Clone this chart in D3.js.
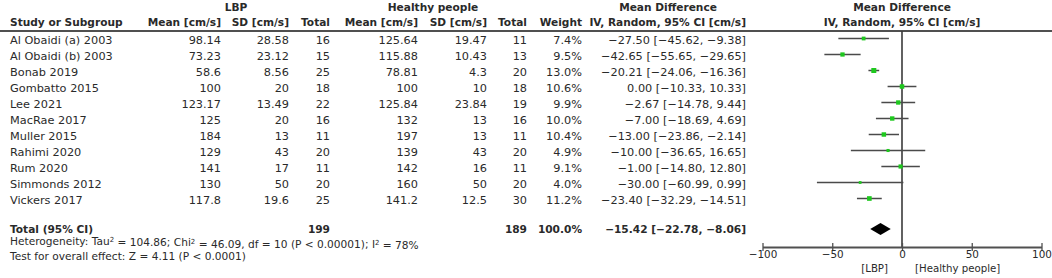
<!DOCTYPE html>
<html>
<head>
<meta charset="utf-8">
<script src="https://cdn.jsdelivr.net/npm/d3@7"></script>
<style>
  body { margin: 0; background: #fff; }
  svg { display: block; font-family: "DejaVu Sans", sans-serif; }
  text { fill: #2a2a2a; }
</style>
</head>
<body>
<div id="container"></div>
<script>
// study data
const studies = ["Al Obaidi (a) 2003", "Al Obaidi (b) 2003", "Bonab 2019", "Gombatto 2015", "Lee 2021",
    "MacRae 2017", "Muller 2015", "Rahimi 2020", "Rum 2020", "Simmonds 2012", "Vickers 2017"]
const lbpMean = [98.14, 73.23, 58.6, 100, 123.17, 125, 184, 129, 141, 130, 117.8]
const lbpSD = [28.58, 23.12, 8.56, 20, 13.49, 20, 13, 43, 17, 50, 19.6]
const lbpN = [16, 15, 25, 18, 22, 16, 11, 20, 11, 20, 25]
const hMean = [125.64, 115.88, 78.81, 100, 125.84, 132, 197, 139, 142, 160, 141.2]
const hSD = [19.47, 10.43, 4.3, 10, 23.84, 13, 13, 43, 16, 50, 12.5]
const hN = [11, 13, 20, 18, 19, 16, 11, 20, 11, 20, 30]
const weights = [7.4, 9.5, 13.0, 10.6, 9.9, 10.0, 10.4, 4.9, 9.1, 4.0, 11.2]
const md = [-27.50, -42.65, -20.21, 0.00, -2.67, -7.00, -13.00, -10.00, -1.00, -30.00, -23.40]
const ciLow = [-45.62, -55.65, -24.06, -10.33, -14.78, -18.69, -23.86, -36.65, -14.80, -60.99, -32.29]
const ciHigh = [-9.38, -29.65, -16.36, 10.33, 9.44, 4.69, -2.14, 16.65, 12.80, 0.99, -14.51]

// pooled
const total = { label: "Total (95% CI)", lbpN: 199, hN: 189, weight: 100.0, md: -15.42, lo: -22.78, hi: -8.06 }
const heterogeneity = ["Heterogeneity: Tau", "2", " = 104.86; Chi", "2", " = 46.09, df = 10 (P < 0.00001); I", "2", " = 78%"]
const overallTest = "Test for overall effect: Z = 4.11 (P < 0.0001)"
const axisTicks = [-100, -50, 0, 50, 100]
const favours = ["[LBP]", "[Healthy people]"]

const W = 1052, H = 278
const fs = 11.3
const hfs = 10.6
const darkLine = "#505050"

const rows = studies.map((s, i) => ({
    study: s, lm: lbpMean[i], ls: lbpSD[i], ln: lbpN[i],
    hm: hMean[i], hs: hSD[i], hn: hN[i], w: weights[i],
    md: md[i], lo: ciLow[i], hi: ciHigh[i]
}))

const minus = v => String(v).replace("-", "\u2212")
const fmt2 = v => minus(v.toFixed(2))
const ciText = (m, l, h) => `${fmt2(m)} [${fmt2(l)}, ${fmt2(h)}]`

const svg = d3.select("#container").append("svg")
    .attr("width", W).attr("height", H)

const y = d3.scalePoint().domain(studies).range([38.5, 198.5])
const x = d3.scaleLinear().domain([-100, 100]).range([762.5, 1041.5])
const yTotal = 229
const yAxis = 247

/* COLUMN LAYOUT (right edges) */
const cols = [
    { key: "lm", right: 221, f: String },
    { key: "ls", right: 289, f: String },
    { key: "ln", right: 330, f: String },
    { key: "hm", right: 418, f: String },
    { key: "hs", right: 487, f: String },
    { key: "hn", right: 527, f: String },
    { key: "w", right: 582, f: v => v.toFixed(1) + "%" },
]

/* HEADERS */
const head = svg.append("g").style("font-weight", "bold").style("font-size", hfs + "px")
const headText = (t, xp, yp, anchor) => head.append("text")
    .attr("x", xp).attr("y", yp).attr("text-anchor", anchor).text(t)

headText("LBP", 236, 11, "middle")
headText("Healthy people", 433, 11, "middle")
headText("Mean Difference", 668, 11, "middle")
headText("Mean Difference", x(0), 11, "middle")
headText("Study or Subgroup", 10, 26, "start")
const colHeads = ["Mean [cm/s]", "SD [cm/s]", "Total", "Mean [cm/s]", "SD [cm/s]", "Total", "Weight"]
cols.forEach((c, i) => headText(colHeads[i], c.right, 26, "end"))
headText("IV, Random, 95% CI [cm/s]", 746, 26, "end")
headText("IV, Random, 95% CI [cm/s]", x(0), 26, "middle")

svg.append("line")
    .attr("x1", 0).attr("x2", W).attr("y1", 31).attr("y2", 31)
    .attr("stroke", darkLine).attr("stroke-width", 2)

/* STUDY ROWS */
const body = svg.append("g").style("font-size", fs + "px")
const rowG = body.selectAll("g.row")
    .data(rows)
    .join("g")
    .attr("class", "row")
    .attr("transform", d => `translate(0, ${y(d.study) + 5})`)

rowG.append("text").attr("x", 10).text(d => d.study)
cols.forEach(c => {
    rowG.append("text").attr("x", c.right).attr("text-anchor", "end").text(d => c.f(d[c.key]))
})
rowG.append("text").attr("x", 746).attr("text-anchor", "end").text(d => ciText(d.md, d.lo, d.hi))

/* TOTAL ROW */
const tot = svg.append("g").style("font-size", hfs + "px").style("font-weight", "bold")
    .attr("transform", `translate(0, ${yTotal + 4})`)
tot.append("text").attr("x", 10).text(total.label)
tot.append("text").attr("x", 330).attr("text-anchor", "end").text(total.lbpN)
tot.append("text").attr("x", 527).attr("text-anchor", "end").text(total.hN)
tot.append("text").attr("x", 582).attr("text-anchor", "end").text(total.weight.toFixed(1) + "%")
tot.append("text").attr("x", 746).attr("text-anchor", "end").text(ciText(total.md, total.lo, total.hi))

/* FOOTNOTES */
const het = svg.append("text").attr("x", 10).attr("y", 245).style("font-size", "10.6px")
heterogeneity.forEach((t, i) => {
    het.append("tspan")
        .attr("dy", i % 2 ? "-0.4em" : (i > 0 ? "0.4em" : null))
        .style("font-size", i % 2 ? "7px" : null)
        .text(t)
})
svg.append("text").attr("x", 10).attr("y", 260).style("font-size", "10.6px").text(overallTest)

/* FOREST PLOT */
const plot = svg.append("g")

plot.append("line")
    .attr("x1", x(0)).attr("x2", x(0))
    .attr("y1", 31).attr("y2", yAxis)
    .attr("stroke", "#3a3a3a").attr("stroke-width", 1.6)

plot.selectAll("line.ci")
    .data(rows)
    .join("line")
    .attr("class", "ci")
    .attr("x1", d => x(d.lo)).attr("x2", d => x(d.hi))
    .attr("y1", d => y(d.study)).attr("y2", d => y(d.study))
    .attr("stroke", "#4a4a4a").attr("stroke-width", 1.5)

const size = d3.scaleSqrt().domain([0, 13]).range([0, 5])
plot.selectAll("rect.marker")
    .data(rows)
    .join("rect")
    .attr("class", "marker")
    .attr("x", d => x(d.md) - size(d.w) / 2)
    .attr("y", d => y(d.study) - size(d.w) / 2)
    .attr("width", d => size(d.w))
    .attr("height", d => size(d.w))
    .attr("fill", "#1ec81e")

plot.append("path")
    .attr("d", d3.line()([
        [x(total.lo), yTotal], [x(total.md), yTotal - 6],
        [x(total.hi), yTotal], [x(total.md), yTotal + 6]
    ]) + "Z")
    .attr("fill", "#000")

/* AXIS */
const axis = plot.append("g")
    .attr("transform", `translate(0, ${yAxis})`)
    .style("font-size", "10.4px")
    .call(d3.axisBottom(x).tickValues(axisTicks).tickSizeOuter(0).tickSizeInner(4)
        .tickFormat(d => minus(d)))
axis.select(".domain").attr("stroke", darkLine).attr("stroke-width", 2)
axis.selectAll(".tick line").attr("y1", -4).attr("y2", 4).attr("stroke", darkLine).attr("stroke-width", 1.3)
axis.selectAll(".tick text").attr("y", 4).attr("fill", "#2a2a2a").style("font-family", "DejaVu Sans")

plot.append("text").attr("x", x(0) - 14).attr("y", 272).attr("text-anchor", "end")
    .style("font-size", "10.2px").text(favours[0])
plot.append("text").attr("x", x(0) + 13).attr("y", 272).attr("text-anchor", "start")
    .style("font-size", "10.2px").text(favours[1])
</script>
</body>
</html>
